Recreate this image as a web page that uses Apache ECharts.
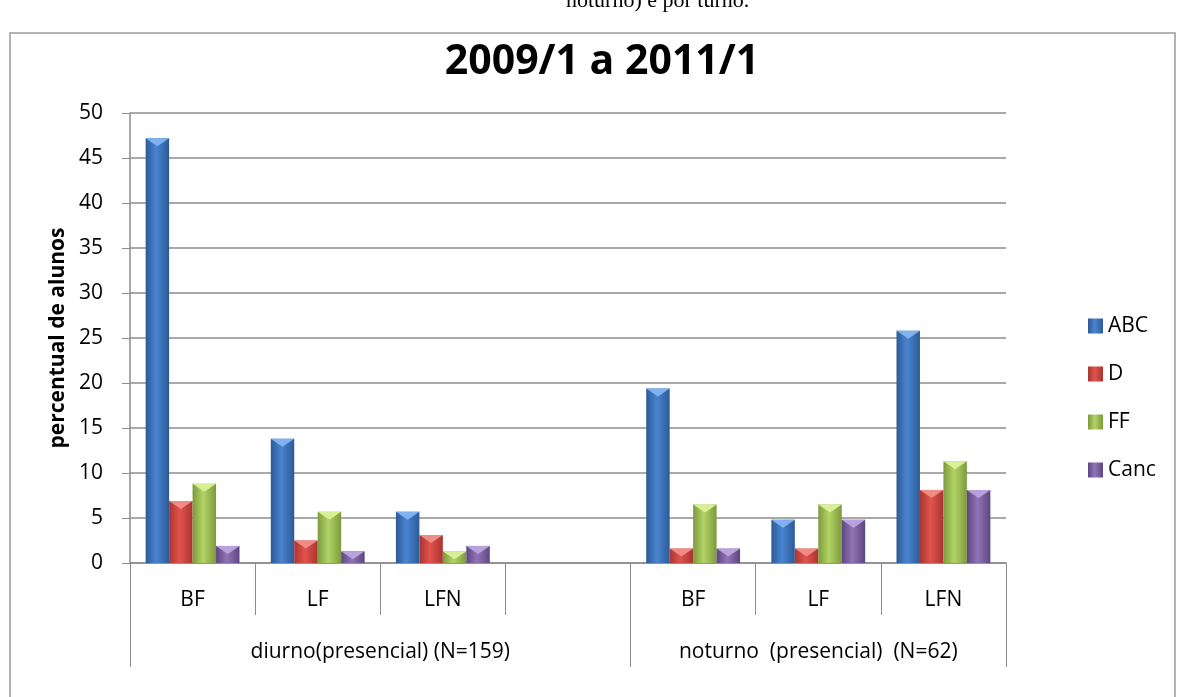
<!DOCTYPE html>
<html>
<head>
<meta charset="utf-8">
<script src="https://cdn.jsdelivr.net/npm/echarts@6/dist/echarts.min.js"></script>
<style>
  html, body { margin: 0; padding: 0; background: #fff; }
  #chart { width: 1177px; height: 697px; }
</style>
</head>
<body>
<div id="chart"></div>
<script>
// categorias (a 4a fica vazia, separa os dois turnos)
const categories = ['BF', 'LF', 'LFN', '', 'BF', 'LF', 'LFN']
const groupNames = ['diurno(presencial) (N=159)', 'noturno  (presencial)  (N=62)']
const groupEdges = [0, 4, 7]
const groupCenters = [2, 5.5]
const yTicks = [0, 50, 5]

// percentual de alunos
const abc = [47.2, 13.8, 5.7, null, 19.4, 4.8, 25.8]
const dd = [6.9, 2.5, 3.1, null, 1.6, 1.6, 8.1]
const ff = [8.8, 5.7, 1.3, null, 6.5, 6.5, 11.3]
const canc = [1.9, 1.3, 1.9, null, 1.6, 4.8, 8.1]

const font = 'Open Sans'
const gray = '#8c8c8c'

// gradiente horizontal pra dar o efeito de barra "3D"
function bevel (edge, mid) {
  return new echarts.graphic.LinearGradient(0, 0, 1, 0, [
    { offset: 0, color: edge },
    { offset: 0.45, color: mid },
    { offset: 1, color: edge }
  ])
}

function barSeries (name, data, edge, mid) {
  return {
    name: name,
    type: 'bar',
    data: data,
    barGap: '0%',
    barCategoryGap: '25%',
    itemStyle: { color: bevel(edge, mid) }
  }
}

// triangulo claro no topo de cada barra
function capSeries (name, data, light) {
  return {
    name: name,
    type: 'pictorialBar',
    data: data,
    barGap: '0%',
    barCategoryGap: '25%',
    symbol: 'path://M0,0 L10,0 L5,4 Z',
    symbolPosition: 'end',
    symbolSize: ['100%', 8],
    symbolOffset: [0, 0],
    itemStyle: { color: light },
    z: 3,
    tooltip: { show: false }
  }
}

const chart = echarts.init(document.getElementById('chart'))
chart.setOption({
  animation: false,
  textStyle: { fontFamily: font },
  title: {
    text: '2009/1 a 2011/1',
    left: 597,
    top: 37,
    textAlign: 'center',
    textStyle: { fontSize: 41, fontWeight: 'bold', color: '#000', fontFamily: font }
  },
  graphic: [
    {
      type: 'rect',
      shape: { x: 10, y: 33, width: 1165, height: 700 },
      style: { fill: 'none', stroke: '#9a9a9a', lineWidth: 1.5 },
      silent: true
    },
    {
      type: 'text',
      left: 566,
      top: -10,
      style: { text: 'noturno) e por turno.', font: '22px "Liberation Serif"', fill: '#000' }
    }
  ],
  legend: {
    orient: 'vertical',
    left: 1083,
    top: 310,
    itemWidth: 15,
    itemHeight: 15,
    itemGap: 26,
    icon: 'rect',
    data: ['ABC', 'D', 'FF', 'Canc'],
    textStyle: { fontSize: 21, lineHeight: 22, color: '#000', fontFamily: font }
  },
  grid: { left: 130, right: 171, top: 113, bottom: 134, containLabel: false },
  xAxis: [
    {
      type: 'category',
      data: categories,
      position: 'bottom',
      axisLine: { lineStyle: { color: gray, width: 1.5 } },
      axisTick: { show: true, interval: 0, length: 52, lineStyle: { color: gray } },
      axisLabel: { interval: 0, margin: 27, fontSize: 21, color: '#000', fontFamily: font }
    },
    {
      type: 'value',
      min: groupEdges[0],
      max: groupEdges[groupEdges.length - 1],
      position: 'bottom',
      axisLine: { show: false },
      splitLine: { show: false },
      axisTick: { show: true, customValues: groupEdges, length: 104, lineStyle: { color: gray } },
      axisLabel: {
        customValues: groupCenters,
        margin: 79,
        fontSize: 21,
        color: '#000',
        fontFamily: font,
        formatter: v => groupNames[groupCenters.indexOf(v)]
      }
    }
  ],
  yAxis: {
    type: 'value',
    min: yTicks[0],
    max: yTicks[1],
    interval: yTicks[2],
    name: 'percentual de alunos',
    nameLocation: 'middle',
    nameGap: 61,
    nameTextStyle: { fontSize: 21, fontWeight: 'bold', color: '#000', fontFamily: font },
    axisLine: { show: true, lineStyle: { color: gray, width: 1.5 } },
    axisTick: { show: true, length: 8, lineStyle: { color: gray } },
    axisLabel: { fontSize: 21, color: '#000', margin: 27, fontFamily: font },
    splitLine: { lineStyle: { color: gray, width: 1.5 } }
  },
  series: [
    barSeries('ABC', abc, '#2c5a96', '#4a84d0'),
    barSeries('D', dd, '#a83532', '#e2534d'),
    barSeries('FF', ff, '#7d9a3c', '#b2d466'),
    barSeries('Canc', canc, '#5e4680', '#9174b8'),
    capSeries('ABC', abc, '#7fb2ef'),
    capSeries('D', dd, '#f08a85'),
    capSeries('FF', ff, '#d8ef96'),
    capSeries('Canc', canc, '#b9a2dc')
  ]
})
</script>
</body>
</html>
